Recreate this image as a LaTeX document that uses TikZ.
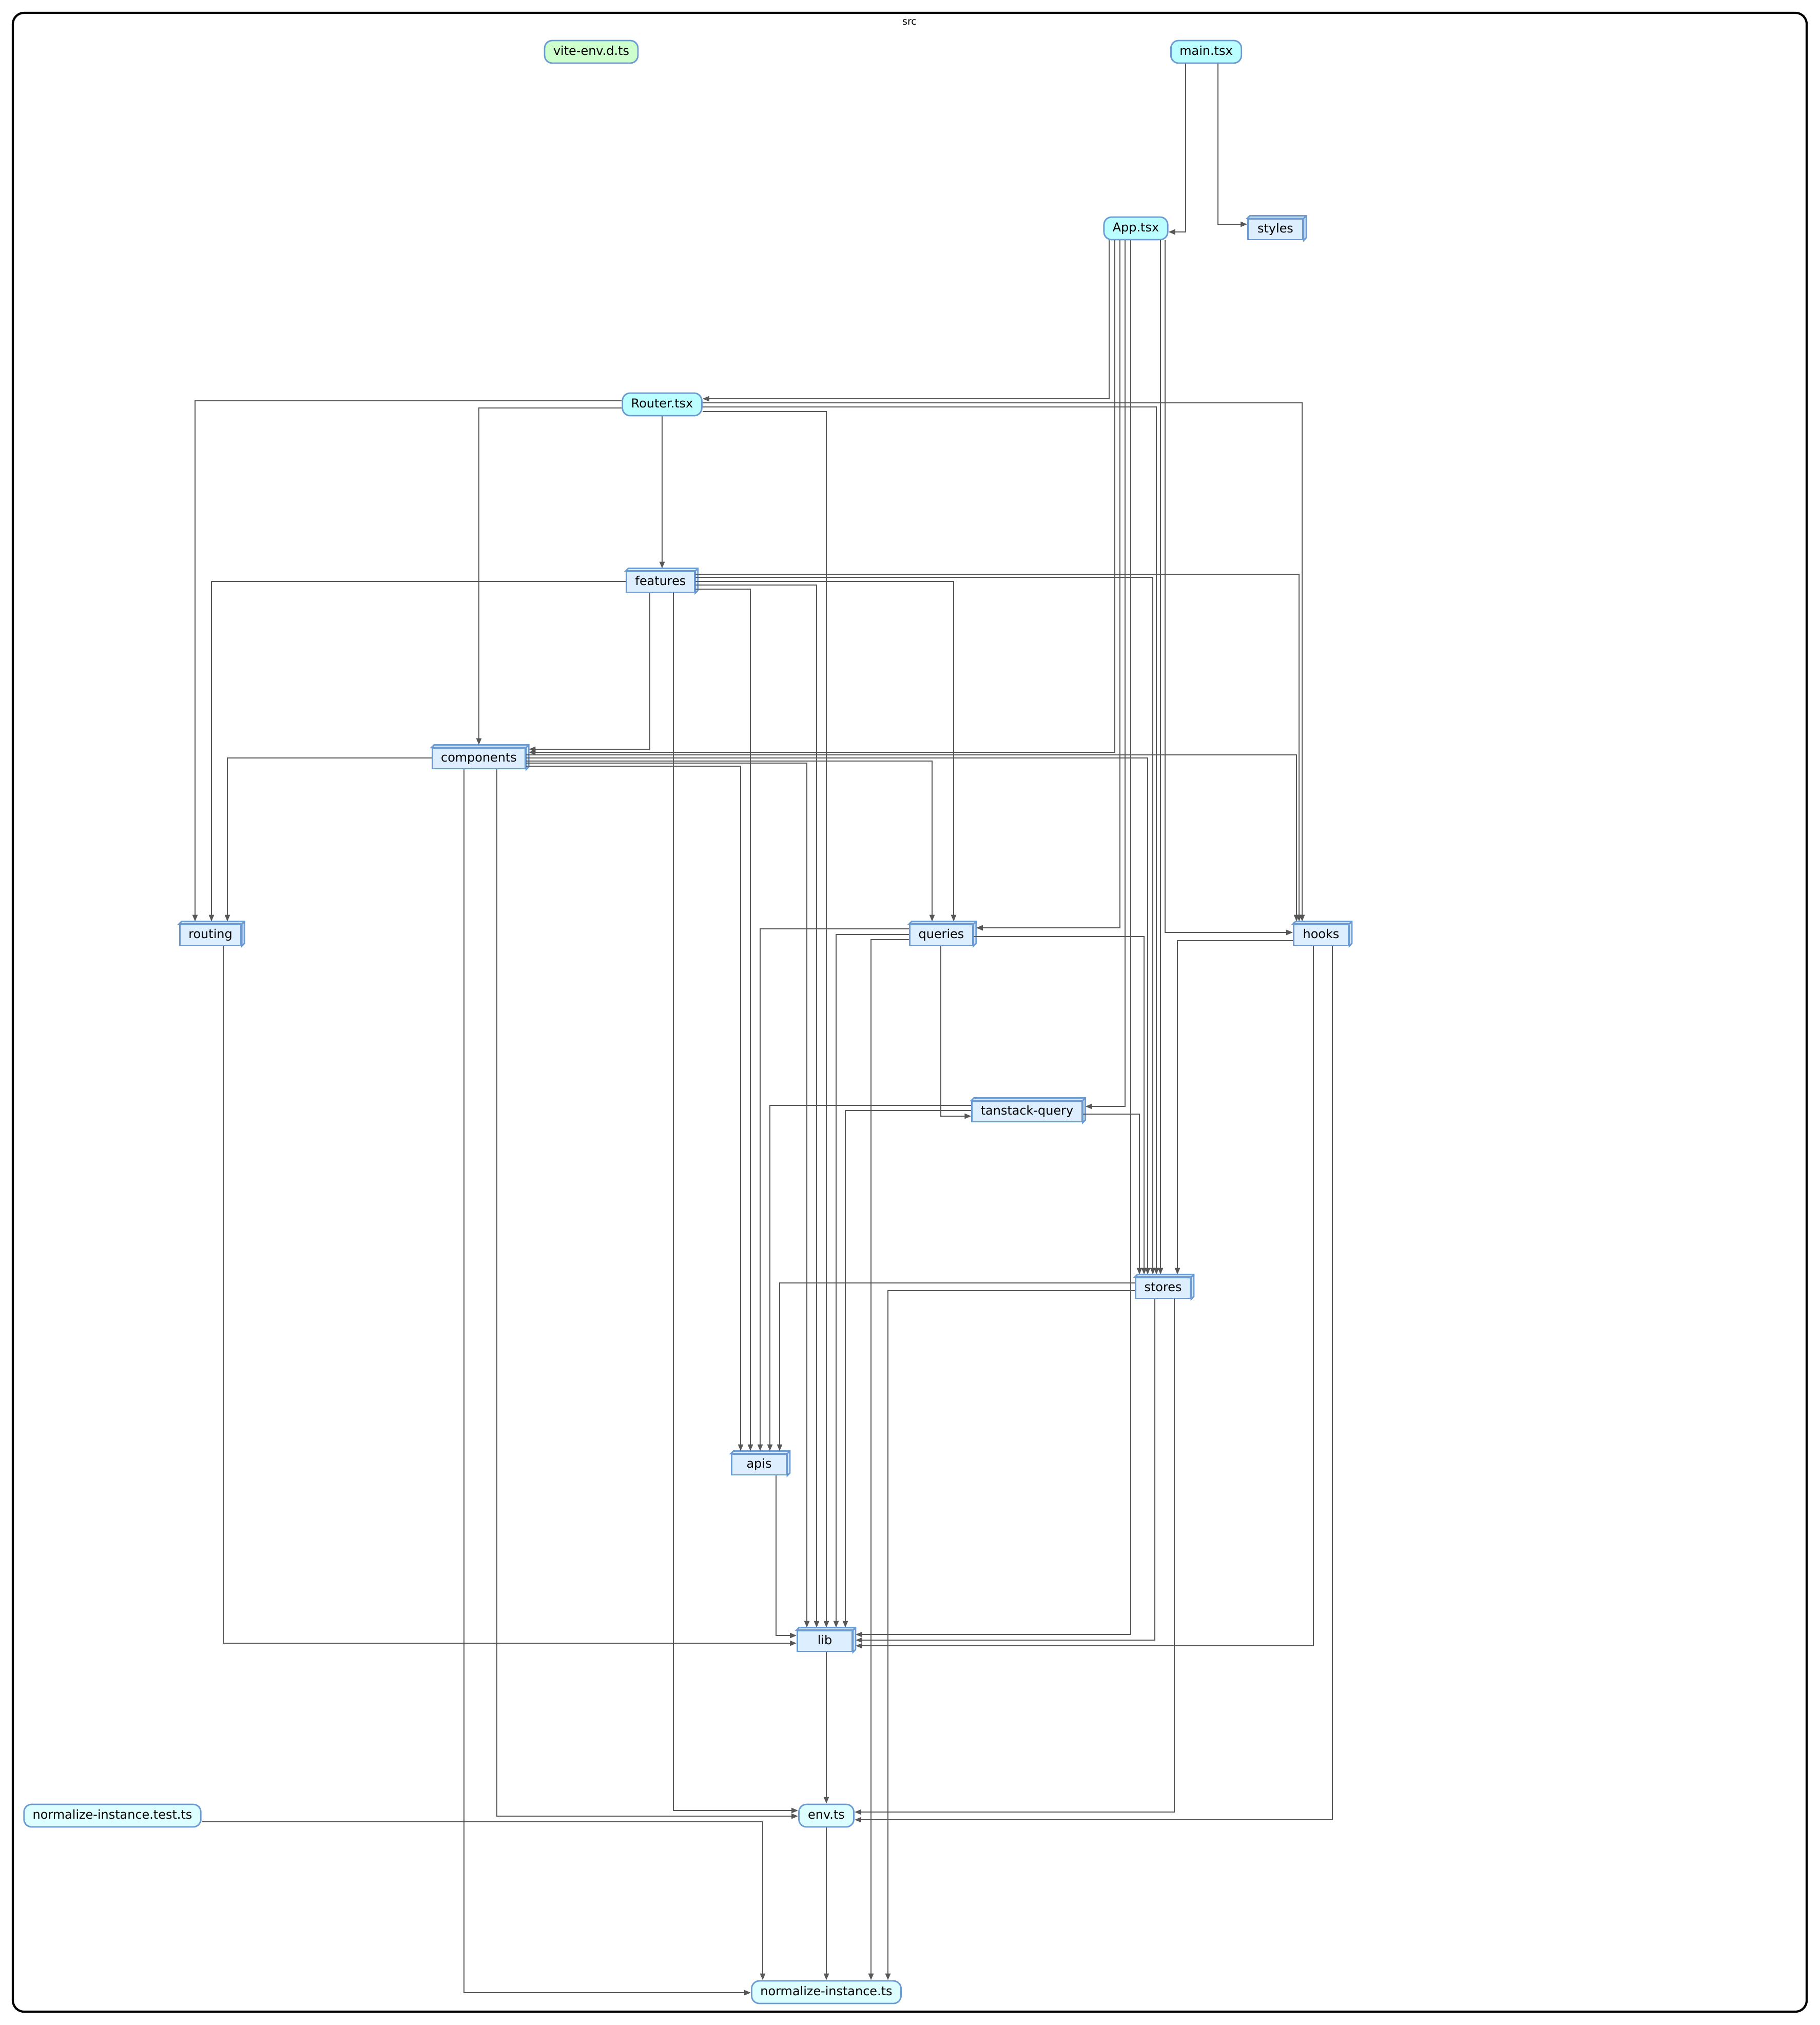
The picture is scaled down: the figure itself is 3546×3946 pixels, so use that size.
\documentclass[tikz,border=0pt]{standalone}
\usepackage{fontspec}
\setmainfont{DejaVu Sans}
\usetikzlibrary{arrows.meta,calc}

\definecolor{tsxfill}{HTML}{BBFEFF}
\definecolor{tsfill}{HTML}{DDFEFF}
\definecolor{dtsfill}{HTML}{CCFFCC}
\definecolor{dirfill}{HTML}{DDEEFF}
\definecolor{nodeline}{HTML}{6B9BD2}
\definecolor{depline}{HTML}{575757}

% top and side faces of a folder box
\newcommand{\boxface}[1]{%
  \filldraw[fill=dirfill,draw=nodeline,line width=0.8pt]
    (#1.north west) -- ++(5,-5) -- ($(#1.north east)+(5,-5)$)
    -- ($(#1.south east)+(5,-5)$) -- (#1.south east) -- (#1.north east) -- cycle
    (#1.north east) -- ++(5,-5);}

\begin{document}
\begin{tikzpicture}[x=0.01cm,y=-0.01cm,
  file/.style={draw=nodeline,line width=0.8pt,rounded corners=1.5mm,minimum width=10.7mm,
    minimum height=4.4mm,inner xsep=1.7mm,inner ysep=0pt,text height=1.8mm,text depth=0.5mm,
    font=\fontsize{6.8}{8}\selectfont},
  tsx/.style={file,fill=tsxfill},
  ts/.style={file,fill=tsfill},
  dts/.style={file,fill=dtsfill},
  dir/.style={file,sharp corners,fill=dirfill,minimum height=4mm},
  dep/.style={->,>={Triangle[length=1.3mm,width=1mm]},color=depline,line width=0.7pt},
  vh/.style={to path={|- (\tikztotarget)}},
  hv/.style={to path={-| (\tikztotarget)}}]

  \useasboundingbox (0,0) rectangle (3546,3946);
  \draw[line width=1.2pt,rounded corners=2.2mm] (25,25) rectangle (3520,3920);
  \node[font=\fontsize{5.4}{6}\selectfont] (srclabel) at (1772,43) {src};

  \node[dts] (vite) at (1152,101) {vite-env.d.ts};
  \node[tsx] (main) at (2350,101) {main.tsx};
  \node[tsx] (App) at (2213,445) {App.tsx};
  \node[dir] (styles) at (2485,447) {styles};
  \node[tsx] (Router) at (1290,788) {Router.tsx};
  \node[dir] (features) at (1287,1134) {features};
  \node[dir] (components) at (933,1478) {components};
  \node[dir] (routing) at (410,1822) {routing};
  \node[dir] (queries) at (1834,1822) {queries};
  \node[dir] (hooks) at (2574,1822) {hooks};
  \node[dir] (tanstack) at (2001,2166) {tanstack-query};
  \node[dir] (stores) at (2266,2510) {stores};
  \node[dir] (apis) at (1479,2854) {apis};
  \node[dir] (lib) at (1607,3198) {lib};
  \node[ts] (test) at (219,3538) {normalize-instance.test.ts};
  \node[ts] (env) at (1610,3538) {env.ts};
  \node[ts] (norm) at (1610,3882) {normalize-instance.ts};

  \foreach \d in {styles,features,components,routing,queries,hooks,tanstack,stores,apis,lib}
    {\boxface{\d}}

  \path[dep]
    ($(main.south)+(-40,0)$) edge[vh] ($(App.east)+(0,7)$)
    ($(main.south)+(23,0)$) edge[vh] ($(styles.west)+(0,-10)$)
    % App.tsx
    ($(App.south)+(-52,0)$) edge[vh] ($(Router.east)+(0,-11)$)
    ($(App.south)+(-41,0)$) edge[vh] ($(components.east)+(5,-12)$)
    ($(App.south)+(-31,0)$) edge[vh] ($(queries.east)+(5,-14)$)
    ($(App.south)+(-21,0)$) edge[vh] ($(tanstack.east)+(5,-10)$)
    ($(App.south)+(-10,0)$) edge[vh] ($(lib.east)+(5,-13)$)
    ($(App.south)+(48,0)$) edge ($(stores.north)+(-5,-5)$)
    ($(App.south)+(57,0)$) edge[vh] ($(hooks.west)+(0,-5)$)
    % Router.tsx
    ($(Router.west)+(0,-7)$) edge[hv] ($(routing.north)+(-30,-5)$)
    ($(Router.west)+(0,7)$) edge[hv] ($(components.north)+(0,-5)$)
    (Router.south) edge ($(Router.south |- features.north)+(0,-5)$)
    ($(Router.east)+(0,14)$) edge[hv] ($(lib.north)+(3,-5)$)
    ($(Router.east)+(0,5)$) edge[hv] ($(stores.north)+(-13,-5)$)
    ($(Router.east)+(0,-3)$) edge[hv] ($(hooks.north)+(-37,-5)$)
    % features
    ($(features.west)+(0,-1)$) edge[hv] ($(routing.north)+(2,-5)$)
    ($(features.south)+(-21,0)$) edge[vh] ($(components.east)+(5,-18)$)
    ($(features.south)+(25,0)$) edge[vh] ($(env.west)+(0,-10)$)
    ($(features.east)+(0,14)$) edge[hv] ($(apis.north)+(-17,-5)$)
    ($(features.east)+(0,6)$) edge[hv] ($(lib.north)+(-16,-5)$)
    ($(features.east)+(0,-1)$) edge[hv] ($(queries.north)+(24,-5)$)
    ($(features.east)+(0,-9)$) edge[hv] ($(stores.north)+(-20,-5)$)
    ($(features.east)+(0,-15)$) edge[hv] ($(hooks.north)+(-43,-5)$)
    % components
    ($(components.west)+(0,-1)$) edge[hv] ($(routing.north)+(33,-5)$)
    ($(components.south)+(-29,0)$) edge[vh] ($(norm.west)+(0,1)$)
    ($(components.south)+(35,0)$) edge[vh] ($(env.west)+(0,1)$)
    ($(components.east)+(0,15)$) edge[hv] ($(apis.north)+(-36,-5)$)
    ($(components.east)+(0,9)$) edge[hv] ($(lib.north)+(-35,-5)$)
    ($(components.east)+(0,5)$) edge[hv] ($(queries.north)+(-18,-5)$)
    ($(components.east)+(0,-1)$) edge[hv] ($(stores.north)+(-30,-5)$)
    ($(components.east)+(0,-7)$) edge[hv] ($(hooks.north)+(-48,-5)$)
    % routing
    ($(routing.south)+(25,0)$) edge[vh] ($(lib.west)+(0,4)$)
    % queries
    ($(queries.west)+(0,-12)$) edge[hv] ($(apis.north)+(2,-5)$)
    ($(queries.west)+(0,-1)$) edge[hv] ($(lib.north)+(22,-5)$)
    ($(queries.west)+(0,9)$) edge[hv] ($(norm.north)+(87,0)$)
    ($(queries.south)+(-1,0)$) edge[vh] ($(tanstack.west)+(0,9)$)
    ($(queries.east)+(0,3)$) edge[hv] ($(stores.north)+(-37,-5)$)
    % hooks
    ($(hooks.west)+(0,11)$) edge[hv] ($(stores.north)+(28,-5)$)
    ($(hooks.south)+(-15,0)$) edge[vh] ($(lib.east)+(5,9)$)
    ($(hooks.south)+(22,0)$) edge[vh] ($(env.east)+(0,8)$)
    % tanstack-query
    ($(tanstack.west)+(0,-12)$) edge[hv] ($(apis.north)+(21,-5)$)
    ($(tanstack.west)+(0,-2)$) edge[hv] ($(lib.north)+(40,-5)$)
    ($(tanstack.east)+(0,5)$) edge[hv] ($(stores.north)+(-46,-5)$)
    % stores
    ($(stores.west)+(0,-10)$) edge[hv] ($(apis.north)+(40,-5)$)
    ($(stores.west)+(0,5)$) edge[hv] ($(norm.north)+(120,0)$)
    ($(stores.south)+(-16,0)$) edge[vh] ($(lib.east)+(5,-2)$)
    ($(stores.south)+(22,0)$) edge[vh] ($(env.east)+(0,-7)$)
    % apis, lib, env, test
    ($(apis.south)+(33,0)$) edge[vh] ($(lib.west)+(0,-11)$)
    ($(lib.south)+(3,0)$) edge (env.north)
    (env.south) edge (norm.north)
    ($(test.east)+(0,12)$) edge[hv] ($(norm.north)+(-124,0)$);
\end{tikzpicture}
\end{document}
